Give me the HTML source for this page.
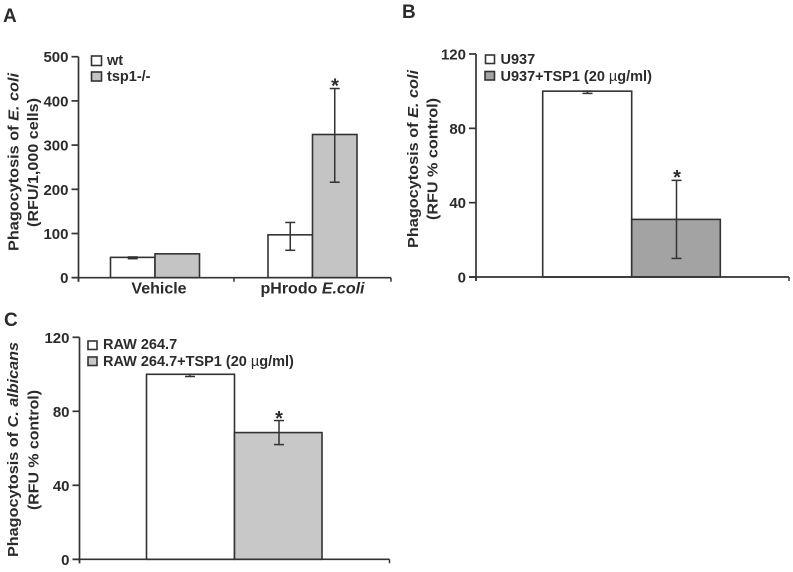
<!DOCTYPE html>
<html lang="en">
<head>
<meta charset="utf-8">
<title>Phagocytosis charts</title>
<style>
html,body{margin:0;padding:0;background:#fff;width:793px;height:572px;overflow:hidden}
svg{display:block;font-family:"Liberation Sans",sans-serif;filter:blur(.3px)}
text{fill:#2b2b2b}
.tick{font-size:15px;font-weight:bold}
.cat{font-size:16px;font-weight:bold}
.leg{font-size:14.5px;font-weight:bold}
.ttl{font-size:15px;font-weight:bold}
.pl{font-size:19px;font-weight:bold}
</style>
</head>
<body>
<svg id="fig" width="793" height="572" viewBox="0 0 793 572" xmlns="http://www.w3.org/2000/svg">
  <text class="pl" x="3" y="22">A</text>
  <text class="pl" x="402" y="18">B</text>
  <text class="pl" x="4" y="326">C</text>

  <g>
    <text class="ttl" textLength="178" lengthAdjust="spacingAndGlyphs" transform="translate(18.5,251) rotate(-90)">Phagocytosis of <tspan font-style="italic">E. coli</tspan></text>
    <text class="ttl" textLength="129" lengthAdjust="spacingAndGlyphs" transform="translate(38,227) rotate(-90)">(RFU/1,000 cells)</text>
  </g>
  <g>
    <text class="ttl" textLength="178" lengthAdjust="spacingAndGlyphs" transform="translate(418,248) rotate(-90)">Phagocytosis of <tspan font-style="italic">E. coli</tspan></text>
    <text class="ttl" textLength="122" lengthAdjust="spacingAndGlyphs" transform="translate(437.5,220) rotate(-90)">(RFU % control)</text>
  </g>
  <g>
    <text class="ttl" textLength="215" lengthAdjust="spacingAndGlyphs" transform="translate(18,557) rotate(-90)">Phagocytosis of <tspan font-style="italic">C. albicans</tspan></text>
    <text class="ttl" textLength="120" lengthAdjust="spacingAndGlyphs" transform="translate(38.5,510) rotate(-90)">(RFU % control)</text>
  </g>

  <g>
    <rect x="91.5" y="56" width="10" height="9.5" fill="#fff" stroke="#333" stroke-width="1.6"/>
    <text class="leg" x="107" y="65">wt</text>
    <rect x="91.5" y="72" width="10" height="9" fill="#c4c4c4" stroke="#333" stroke-width="1.6"/>
    <text class="leg" x="107" y="81">tsp1-/-</text>
  </g>
  <g>
    <rect x="485.5" y="55" width="9" height="8.5" fill="#fff" stroke="#333" stroke-width="1.6"/>
    <text class="leg" x="500.5" y="64">U937</text>
    <rect x="485" y="71.5" width="9.5" height="8.5" fill="#a3a3a3" stroke="#333" stroke-width="1.6"/>
    <text class="leg" x="500.5" y="81">U937+TSP1 (20 <tspan font-weight="normal">µ</tspan>g/ml)</text>
  </g>
  <g>
    <rect x="88" y="341" width="9" height="8.5" fill="#fff" stroke="#333" stroke-width="1.6"/>
    <text class="leg" x="103" y="349">RAW 264.7</text>
    <rect x="88" y="357" width="9" height="8.5" fill="#c8c8c8" stroke="#333" stroke-width="1.6"/>
    <text class="leg" x="103" y="366">RAW 264.7+TSP1 (20 <tspan font-weight="normal">µ</tspan>g/ml)</text>
  </g>

  <text class="cat" x="159" y="293.5" text-anchor="middle" id="xl0"></text>
  <text class="cat" x="312.5" y="293.5" text-anchor="middle" id="xl1"></text>
</svg>
<script>
// Panel A data
const aCategories = ["Vehicle", "pHrodo"];
const aWt = [46, 97];
const aTsp1 = [54, 324];
const aWtLow = [43, 62];
const aWtHigh = [47, 125];
const aTsp1Low = [54, 216];
const aTsp1High = [54, 428];
const aTicks = [0, 100, 200, 300, 400, 500];
// Panel B data
const bValues = [100, 31];
const bLow = [98.8, 10];
const bHigh = [100, 52];
const bTicks = [0, 40, 80, 120];
// Panel C data
const cValues = [100, 68.5];
const cLow = [98.8, 62];
const cHigh = [100, 75];
const cTicks = [0, 40, 80, 120];

const svg = document.getElementById('fig');
const NS = 'http://www.w3.org/2000/svg';
const INK = '#333';

function line(x1, y1, x2, y2, w) {
  const el = document.createElementNS(NS, 'line');
  el.setAttribute('x1', x1);
  el.setAttribute('y1', y1);
  el.setAttribute('x2', x2);
  el.setAttribute('y2', y2);
  el.setAttribute('stroke', INK);
  el.setAttribute('stroke-width', w);
  return el;
}
function scaleY(top, bottom, max) {
  return v => bottom - (v / max) * (bottom - top);
}
function drawAxes(prefix, ax, axEnd, y, ticks, xTicks) {
  const g = document.createElementNS(NS, 'g');
  
  
  const yAxis = line(ax, y(ticks[ticks.length - 1]), ax, y(0) + 4, 1.7);
  
  
  g.appendChild(yAxis);
  const xAxis = line(ax - 7, y(0), axEnd, y(0), 1.7);
  
  
  g.appendChild(xAxis);
  ticks.forEach(t => {
    const tk = line(ax - 7, y(t), ax, y(t), 1.7);
    
    
    g.appendChild(tk);
    const lb = document.createElementNS(NS, 'text');
    lb.setAttribute('x', ax - 10);
    lb.setAttribute('y', y(t) + 5.5);
    lb.setAttribute('text-anchor', 'end');
    lb.setAttribute('class', 'tick');
    
    
    lb.textContent = t;
    g.appendChild(lb);
  });
  xTicks.forEach(x => {
    const tk = line(x, y(0), x, y(0) + 4, 1.5);
    
    
    g.appendChild(tk);
  });
  svg.appendChild(g);
}
function drawBar(name, x0, x1, y, v, fill) {
  const r = document.createElementNS(NS, 'rect');
  r.setAttribute('x', x0);
  r.setAttribute('y', y(v));
  r.setAttribute('width', x1 - x0);
  r.setAttribute('height', y(0) - y(v));
  r.setAttribute('fill', fill);
  r.setAttribute('stroke', INK);
  r.setAttribute('stroke-width', 1.6);
  
  
  svg.appendChild(r);
}
function drawError(name, x, y, lo, hi, cap) {
  const g = document.createElementNS(NS, 'g');
  
  
  g.appendChild(line(x, y(hi), x, y(lo), 1.5));
  g.appendChild(line(x - cap, y(hi), x + cap, y(hi), 1.5));
  g.appendChild(line(x - cap, y(lo), x + cap, y(lo), 1.5));
  svg.appendChild(g);
}
function drawStar(name, x, yPos) {
  const t = document.createElementNS(NS, 'text');
  t.setAttribute('x', x);
  t.setAttribute('y', yPos);
  t.setAttribute('text-anchor', 'middle');
  t.setAttribute('font-size', '20');
  t.setAttribute('font-weight', 'bold');
  
  
  t.textContent = '*';
  svg.appendChild(t);
}

// Panel A
const yA = scaleY(56.7, 277.7, 500);
const aStarts = [110.5, 268];
const aBarW = 44.5;
aCategories.forEach((c, i) => {
  const x0 = aStarts[i];
  drawBar('bar-wt-' + c.toLowerCase(), x0, x0 + aBarW, yA, aWt[i], '#fff');
  drawBar('bar-tsp1-' + c.toLowerCase(), x0 + aBarW, x0 + 2 * aBarW, yA, aTsp1[i], '#c4c4c4');
  drawError('error-wt-' + c.toLowerCase(), x0 + aBarW / 2, yA, aWtLow[i], aWtHigh[i], 5);
  if (aTsp1High[i] > aTsp1Low[i]) {
    drawError('error-tsp1-' + c.toLowerCase(), x0 + 1.5 * aBarW, yA, aTsp1Low[i], aTsp1High[i], 5);
  }
});
drawAxes('panel-a', 78.5, 391, yA, aTicks, [78.5, 234, 391]);
drawStar('significance-star-a', 335, yA(aTsp1High[1]) + 4);
document.getElementById('xl0').textContent = aCategories[0];
document.getElementById('xl1').innerHTML = aCategories[1] + ' <tspan font-style="italic">E.coli</tspan>';

// Panel B
const yB = scaleY(54, 277, 120);
drawBar('bar-u937', 542.7, 631.7, yB, bValues[0], '#fff');
drawBar('bar-u937-tsp1', 631.7, 720.3, yB, bValues[1], '#a3a3a3');
drawError('error-u937', 587.5, yB, bLow[0], bHigh[0], 5);
drawError('error-u937-tsp1', 676.5, yB, bLow[1], bHigh[1], 5);
drawAxes('panel-b', 476, 789, yB, bTicks, [476, 789]);
drawStar('significance-star-b', 677, yB(bHigh[1]) + 3.5);

// Panel C
const yC = scaleY(337.3, 559.3, 120);
drawBar('bar-raw', 146.5, 234.5, yC, cValues[0], '#fff');
drawBar('bar-raw-tsp1', 234.5, 322, yC, cValues[1], '#c8c8c8');
drawError('error-raw', 190, yC, cLow[0], cHigh[0], 5);
drawError('error-raw-tsp1', 279, yC, cLow[1], cHigh[1], 5);
drawAxes('panel-c', 79.5, 389.5, yC, cTicks, [79.5, 389.5]);
drawStar('significance-star-c', 279, yC(cHigh[1]) + 4.5);
</script>
</body>
</html>
